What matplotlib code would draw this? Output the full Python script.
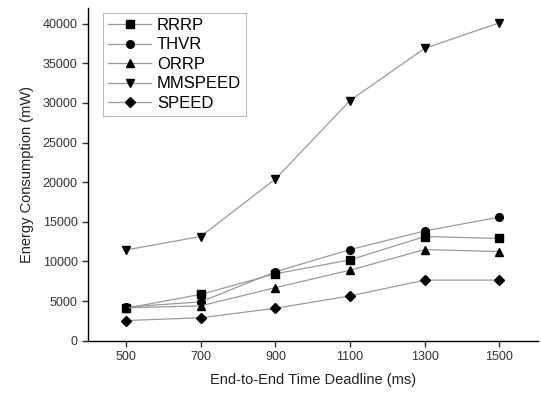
import matplotlib
matplotlib.use("Agg")
import matplotlib.pyplot as plt

plt.rcParams['font.family'] = ['Liberation Sans', 'DejaVu Sans']

deadline = [500, 700, 900, 1100, 1300, 1500]
rrrp = [4100, 5850, 8450, 10200, 13150, 12900]
thvr = [4250, 4900, 8700, 11500, 13850, 15600]
orrp = [4150, 4400, 6700, 8900, 11500, 11250]
mmspeed = [11450, 13150, 20400, 30300, 36900, 40100]
speed = [2550, 2900, 4100, 5650, 7650, 7650]

series = [
    ("RRRP", rrrp, "s"),
    ("THVR", thvr, "o"),
    ("ORRP", orrp, "^"),
    ("MMSPEED", mmspeed, "v"),
    ("SPEED", speed, "D"),
]

fig = plt.figure(figsize=(5.41, 3.93), dpi=100)
ax = fig.add_axes([0.1627, 0.133, 0.832, 0.847])

for name, vals, mk in series:
    ax.plot(deadline, vals, color="#9a9a9a", linewidth=0.9, marker=mk,
            markersize=5.5 if mk != "D" else 5, markerfacecolor="black",
            markeredgecolor="black", label=name)

ax.set_xlim(398, 1604)
ax.set_ylim(0, 42000)
ax.set_xticks(deadline)
ax.set_yticks(range(0, 40001, 5000))
ax.spines['top'].set_visible(False)
ax.spines['right'].set_visible(False)
for s in ('left', 'bottom'):
    ax.spines[s].set_linewidth(1.0)
ax.tick_params(direction='out', length=4, width=1, labelsize=9, colors='#333333')

ax.set_xlabel("End-to-End Time Deadline (ms)", fontsize=10.5, color='#222222', labelpad=7)
ax.set_ylabel("Energy Consumption (mW)", fontsize=10.5, color='#222222', labelpad=6)

leg = ax.legend(loc='upper left', bbox_to_anchor=(0.033, 0.985), fontsize=12,
                frameon=True, fancybox=False, handlelength=2.6, handletextpad=0.35,
                labelspacing=0.27, borderpad=0.3, borderaxespad=0.0)
leg.get_frame().set_edgecolor('#aaaaaa')
leg.get_frame().set_linewidth(0.8)

fig.savefig("out.png", dpi=100)
